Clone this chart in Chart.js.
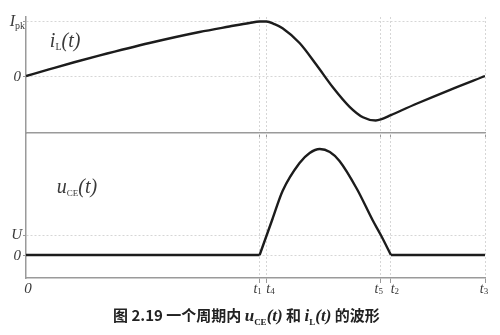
<!DOCTYPE html>
<html>
<head>
<meta charset="utf-8">
<script src="https://cdn.jsdelivr.net/npm/chart.js@4.4.1/dist/chart.umd.min.js"></script>
<style>
  body { margin: 0; background: #fff; }
  #wrap { position: relative; width: 500px; height: 335px; }
  canvas { position: absolute; left: 0; top: 0; }
  #caption { position: absolute; left: 113px; top: 304px; font: bold 15px "Noto Sans CJK SC"; color: #222; white-space: nowrap; }
  #caption i { font-family: "Liberation Serif"; font-size: 17px; }
  #caption sub { font-size: 9px; font-style: normal; }
</style>
</head>
<body>
<div id="wrap">
  <canvas id="iChart" width="500" height="335"></canvas>
  <canvas id="uChart" width="500" height="335"></canvas>
  <div id="caption">图 2.19 一个周期内 <i>u<sub>CE</sub>(t)</i> 和 <i>i<sub>L</sub>(t)</i> 的波形</div>
</div>
<script>
// switching instants t1 t4 t5 t2 t3, as a fraction of the period
const tMarks = [0.509, 0.524, 0.773, 0.795, 1.0];
const tNames = ['1', '4', '5', '2', '3'];

// inductor current i_L(t), in units of I_pk
const iTimes  = [0, 0.050, 0.105, 0.159, 0.269, 0.378, 0.443, 0.487, 0.509, 0.524, 0.541, 0.559, 0.596, 0.633, 0.668, 0.705, 0.734, 0.762, 0.773, 0.795, 0.852, 0.924, 1.0];
const iValues = [0, 0.12, 0.25, 0.37, 0.60, 0.80, 0.90, 0.965, 0.99, 0.99, 0.945, 0.87, 0.6, 0.2, -0.2, -0.56, -0.75, -0.81, -0.79, -0.71, -0.5, -0.25, 0];

// collector-emitter voltage u_CE(t), in units of U
const uTimes  = [0, 0.509, 0.537, 0.559, 0.596, 0.618, 0.640, 0.662, 0.683, 0.721, 0.755, 0.773, 0.795, 1.0];
const uValues = [0, 0, 1.8, 3.2, 4.6, 5.1, 5.3, 5.15, 4.7, 3.3, 1.75, 1.0, 0, 0];

const serif = '"Liberation Serif", "Times New Roman", serif';
const axisColor = '#9a9a9a';
const gridColor = '#d6d6d6';
const lineColor = '#1c1c1c';
const textColor = '#3a3a3a';

// parts: [text, size, dy, italic]
function drawParts(ctx, parts, x, y, align) {
  const fontOf = p => (p[3] ? 'italic ' : '') + p[1] + 'px ' + serif;
  let w = 0;
  parts.forEach(p => { ctx.font = fontOf(p); w += ctx.measureText(p[0]).width; });
  let cx = align === 'right' ? x - w : align === 'center' ? x - w / 2 : x;
  parts.forEach(p => {
    ctx.font = fontOf(p);
    ctx.fillText(p[0], cx, y + p[2]);
    cx += ctx.measureText(p[0]).width;
  });
}

function points(ts, vs, from, to) {
  return ts.map((t, k) => ({ x: t, y: vs[k] })).filter(p => p.x >= from && p.x <= to);
}

function curve(data, mode) {
  return {
    data: data,
    borderColor: lineColor,
    borderWidth: 2.4,
    cubicInterpolationMode: mode,
    tension: mode === 'monotone' ? 0.4 : 0,
    fill: false
  };
}

function makeOptions(yMin, yMax, padTop, padBottom) {
  return {
    responsive: false,
    animation: false,
    layout: { padding: { left: 0, right: 15, top: padTop, bottom: padBottom } },
    plugins: { legend: { display: false }, tooltip: { enabled: false } },
    elements: { point: { radius: 0 } },
    scales: {
      x: {
        type: 'linear', min: 0, max: 1,
        afterBuildTicks: s => { s.ticks = tMarks.map(v => ({ value: v })); },
        afterFit: s => { s.height = 0; },
        ticks: { display: false },
        grid: { color: gridColor, lineWidth: 1, drawTicks: true, tickLength: 5, tickColor: axisColor, tickBorderDash: [] },
        border: { color: axisColor, width: 1.5, dash: [2, 2] }
      },
      y: {
        min: yMin, max: yMax,
        afterBuildTicks: s => { s.ticks = [{ value: 0 }, { value: 1 }]; },
        afterFit: s => { s.width = 26; },
        ticks: { display: false },
        grid: { color: gridColor, lineWidth: 1, drawTicks: true, tickLength: 3, tickColor: axisColor, tickBorderDash: [] },
        border: { color: axisColor, width: 1.5, dash: [2, 2] }
      }
    }
  };
}

const iLabels = {
  id: 'iLabels',
  afterDraw(chart) {
    const { ctx, scales: { x, y } } = chart;
    ctx.save();
    ctx.fillStyle = textColor;
    ctx.textBaseline = 'middle';
    drawParts(ctx, [['I', 16, 0, true], ['pk', 10, 4, false]], x.left - 1, y.getPixelForValue(1) + 1, 'right');
    drawParts(ctx, [['0', 15, 0, true]], x.left - 5, y.getPixelForValue(0) + 1, 'right');
    ctx.textBaseline = 'alphabetic';
    drawParts(ctx, [['i', 20, 0, true], ['L', 10, 3, false], ['(t)', 20, 0, true]], x.getPixelForValue(0.052), y.getPixelForValue(0.52), 'left');
    ctx.restore();
  }
};

const tShift = [-2, 4, -2, 4, -1];

const uLabels = {
  id: 'uLabels',
  afterDraw(chart) {
    const { ctx, scales: { x, y } } = chart;
    ctx.save();
    ctx.fillStyle = textColor;
    ctx.textBaseline = 'middle';
    drawParts(ctx, [['U', 15, 0, true]], x.left - 4, y.getPixelForValue(1), 'right');
    drawParts(ctx, [['0', 15, 0, true]], x.left - 5, y.getPixelForValue(0) + 1, 'right');
    const ly = y.bottom + 11;
    drawParts(ctx, [['0', 15, 0, true]], x.getPixelForValue(0) + 2, ly, 'center');
    tMarks.forEach((t, k) => {
      drawParts(ctx, [['t', 14, 0, true], [tNames[k], 9, 3, false]], x.getPixelForValue(t) + tShift[k], ly, 'center');
    });
    ctx.textBaseline = 'alphabetic';
    drawParts(ctx, [['u', 20, 0, true], ['CE', 9, 3, false], ['(t)', 20, 0, true]], x.getPixelForValue(0.067), y.getPixelForValue(3.1), 'left');
    ctx.restore();
  }
};

new Chart(document.getElementById('iChart'), {
  type: 'line',
  data: { datasets: [curve(points(iTimes, iValues, 0, 1), 'monotone')] },
  options: makeOptions(-1.036, 1.073, 17, 202),
  plugins: [iLabels]
});

const t1 = tMarks[0];
const t2 = tMarks[3];
new Chart(document.getElementById('uChart'), {
  type: 'line',
  data: {
    datasets: [
      curve(points(uTimes, uValues, 0, t1), 'default'),
      curve(points(uTimes, uValues, t1, t2), 'monotone'),
      curve(points(uTimes, uValues, t2, 1), 'default')
    ]
  },
  options: makeOptions(-1.15, 6.1, 133, 57),
  plugins: [uLabels]
});
</script>
</body>
</html>
